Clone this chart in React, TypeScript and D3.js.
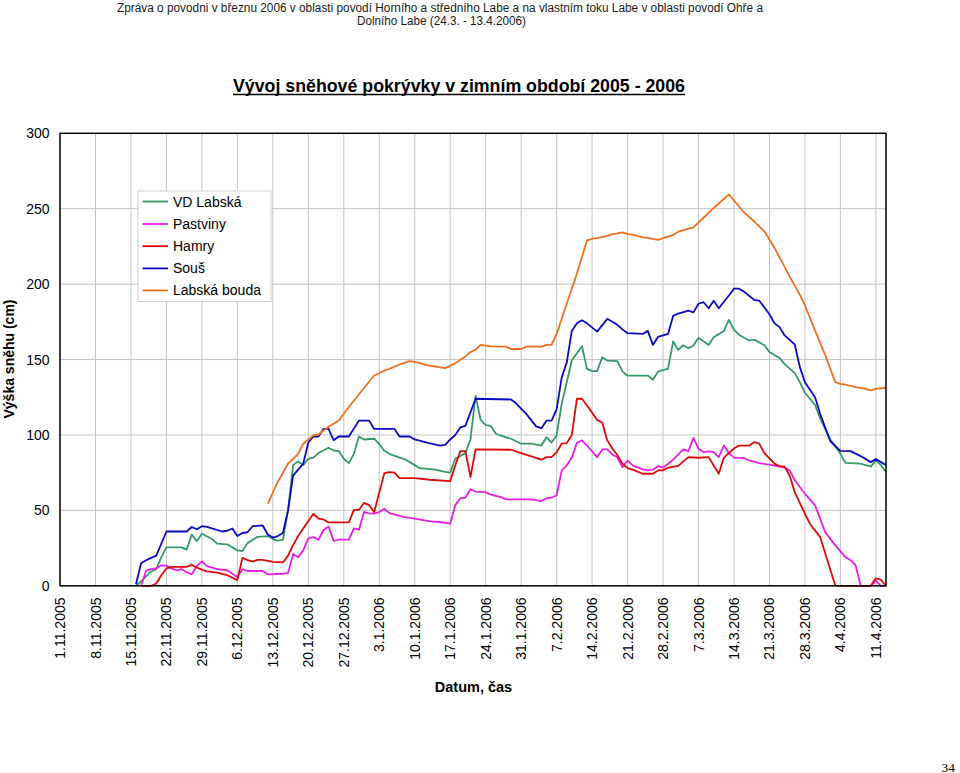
import React from "react";
import * as d3 from "d3";

type Pt = [string, number];

const headerLines = [
  "Zpráva o povodni v březnu 2006 v oblasti povodí Horního a středního Labe a na vlastním toku Labe v oblasti povodí Ohře a",
  "Dolního Labe (24.3. - 13.4.2006)",
];
const chartTitle = "Vývoj sněhové pokrývky v zimním období 2005 - 2006";
const yAxisTitle = "Výška sněhu (cm)";
const xAxisTitle = "Datum, čas";
const pageNumber = "34";

const xTickLabels = [
  "1.11.2005", "8.11.2005", "15.11.2005", "22.11.2005", "29.11.2005", "6.12.2005",
  "13.12.2005", "20.12.2005", "27.12.2005", "3.1.2006", "10.1.2006", "17.1.2006",
  "24.1.2006", "31.1.2006", "7.2.2006", "14.2.2006", "21.2.2006", "28.2.2006",
  "7.3.2006", "14.3.2006", "21.3.2006", "28.3.2006", "4.4.2006", "11.4.2006",
];
const yTicks = [0, 50, 100, 150, 200, 250, 300];
const xDomain = ["1.11.2005", "13.4.2006"];

const vdLabska: Pt[] = [
  ["16.11.2005", 0], ["17.11.2005", 3], ["19.11.2005", 9.5], ["20.11.2005", 11], ["21.11.2005", 19],
  ["22.11.2005", 25.5], ["25.11.2005", 25.5], ["26.11.2005", 24], ["27.11.2005", 34], ["28.11.2005", 29.5],
  ["29.11.2005", 34.5], ["1.12.2005", 31], ["2.12.2005", 28], ["4.12.2005", 27.5], ["6.12.2005", 23.5],
  ["7.12.2005", 23], ["8.12.2005", 28.3], ["10.12.2005", 32.5], ["12.12.2005", 33], ["13.12.2005", 31],
  ["14.12.2005", 30], ["15.12.2005", 30.5], ["16.12.2005", 50], ["17.12.2005", 80], ["18.12.2005", 82.5],
  ["19.12.2005", 80], ["20.12.2005", 84.2], ["21.12.2005", 85], ["22.12.2005", 88], ["24.12.2005", 91.5],
  ["25.12.2005", 89.7], ["26.12.2005", 89.3], ["27.12.2005", 84.2], ["28.12.2005", 81.3], ["29.12.2005", 87.5],
  ["30.12.2005", 99], ["31.12.2005", 97], ["2.1.2006", 97.5], ["3.1.2006", 94], ["4.1.2006", 89.5],
  ["5.1.2006", 87.5], ["7.1.2006", 85], ["8.1.2006", 84], ["10.1.2006", 80], ["11.1.2006", 78],
  ["14.1.2006", 77], ["16.1.2006", 75.5], ["17.1.2006", 75], ["18.1.2006", 84.2], ["19.1.2006", 86],
  ["20.1.2006", 88], ["21.1.2006", 97], ["22.1.2006", 126], ["23.1.2006", 110], ["24.1.2006", 106.5],
  ["25.1.2006", 106], ["26.1.2006", 101], ["27.1.2006", 99.5], ["29.1.2006", 97.5], ["31.1.2006", 94.2],
  ["2.2.2006", 94.2], ["4.2.2006", 93], ["5.2.2006", 98.5], ["6.2.2006", 95], ["7.2.2006", 99.7],
  ["8.2.2006", 120.6], ["9.2.2006", 135], ["10.2.2006", 149.5], ["12.2.2006", 158.8], ["13.2.2006", 143.8],
  ["14.2.2006", 142.3], ["15.2.2006", 142.3], ["16.2.2006", 151.5], ["17.2.2006", 149.3], ["19.2.2006", 148.9],
  ["20.2.2006", 142], ["21.2.2006", 139.4], ["25.2.2006", 139.4], ["26.2.2006", 136.6], ["27.2.2006", 142],
  ["1.3.2006", 144], ["2.3.2006", 162], ["3.3.2006", 156.4], ["4.3.2006", 159.5], ["5.3.2006", 157.5],
  ["6.3.2006", 159.3], ["7.3.2006", 164.4], ["9.3.2006", 159.7], ["10.3.2006", 164.8], ["12.3.2006", 169],
  ["13.3.2006", 176.3], ["14.3.2006", 169.7], ["15.3.2006", 166.5], ["16.3.2006", 164.5], ["17.3.2006", 162.6],
  ["18.3.2006", 163.2], ["20.3.2006", 159.5], ["21.3.2006", 155], ["23.3.2006", 151], ["24.3.2006", 147],
  ["26.3.2006", 141], ["27.3.2006", 135], ["28.3.2006", 128], ["30.3.2006", 120], ["31.3.2006", 111],
  ["2.4.2006", 97], ["4.4.2006", 87.5], ["5.4.2006", 81.5], ["8.4.2006", 81], ["10.4.2006", 79],
  ["11.4.2006", 83], ["12.4.2006", 80], ["13.4.2006", 75.5],
];

const pastviny: Pt[] = [
  ["17.11.2005", 0], ["18.11.2005", 10], ["19.11.2005", 11], ["20.11.2005", 11.5], ["21.11.2005", 13.6],
  ["22.11.2005", 13.4], ["23.11.2005", 11.4], ["24.11.2005", 10.3], ["25.11.2005", 11], ["26.11.2005", 9],
  ["27.11.2005", 7.6], ["28.11.2005", 13], ["29.11.2005", 16.2], ["30.11.2005", 13.1], ["2.12.2005", 11],
  ["4.12.2005", 10.3], ["5.12.2005", 8], ["6.12.2005", 5.8], ["7.12.2005", 11], ["8.12.2005", 9.8],
  ["11.12.2005", 9.8], ["12.12.2005", 7.6], ["15.12.2005", 8], ["16.12.2005", 8.5], ["17.12.2005", 21],
  ["18.12.2005", 19], ["19.12.2005", 23.5], ["20.12.2005", 31.5], ["21.12.2005", 32.3], ["22.12.2005", 30.6],
  ["23.12.2005", 36.8], ["24.12.2005", 39.4], ["25.12.2005", 29.7], ["26.12.2005", 30.6], ["28.12.2005", 30.6],
  ["29.12.2005", 38], ["30.12.2005", 37.2], ["31.12.2005", 49], ["1.1.2006", 48], ["2.1.2006", 47.8],
  ["3.1.2006", 48.9], ["4.1.2006", 51.1], ["5.1.2006", 48.2], ["8.1.2006", 45.6], ["10.1.2006", 44.5],
  ["13.1.2006", 42.7], ["15.1.2006", 42.3], ["17.1.2006", 41.2], ["18.1.2006", 53.5], ["19.1.2006", 58],
  ["20.1.2006", 58.4], ["21.1.2006", 64], ["22.1.2006", 62.5], ["24.1.2006", 62.1], ["25.1.2006", 60.4],
  ["27.1.2006", 58.8], ["28.1.2006", 57.3], ["2.2.2006", 57.3], ["4.2.2006", 56.2], ["5.2.2006", 58.1],
  ["6.2.2006", 58.4], ["7.2.2006", 60], ["8.2.2006", 76.5], ["9.2.2006", 79.8], ["10.2.2006", 85],
  ["11.2.2006", 94.8], ["12.2.2006", 96.4], ["13.2.2006", 93], ["15.2.2006", 85.3], ["16.2.2006", 90.4],
  ["17.2.2006", 90.4], ["18.2.2006", 87], ["19.2.2006", 85], ["20.2.2006", 78.7], ["21.2.2006", 83.1],
  ["22.2.2006", 79.8], ["24.2.2006", 77.2], ["25.2.2006", 76.5], ["26.2.2006", 77], ["27.2.2006", 79.3],
  ["28.2.2006", 78.3], ["2.3.2006", 83.6], ["4.3.2006", 90.4], ["5.3.2006", 89.3], ["6.3.2006", 98.1],
  ["7.3.2006", 91], ["8.3.2006", 88.6], ["9.3.2006", 89.1], ["10.3.2006", 88.6], ["11.3.2006", 85.3],
  ["12.3.2006", 93], ["13.3.2006", 88], ["14.3.2006", 85], ["16.3.2006", 84.6], ["17.3.2006", 83.1],
  ["19.3.2006", 81.3], ["21.3.2006", 80.3], ["24.3.2006", 78.3], ["25.3.2006", 76.5], ["26.3.2006", 70],
  ["28.3.2006", 61], ["30.3.2006", 53.3], ["31.3.2006", 44.5], ["1.4.2006", 35.6], ["3.4.2006", 26.8],
  ["5.4.2006", 19], ["6.4.2006", 17], ["7.4.2006", 13.6], ["8.4.2006", 0], ["10.4.2006", 0],
  ["11.4.2006", 3.5], ["12.4.2006", 0], ["13.4.2006", 0],
];

const hamry: Pt[] = [
  ["17.11.2005", 0], ["19.11.2005", 0], ["20.11.2005", 1.5], ["21.11.2005", 7], ["22.11.2005", 11.5],
  ["23.11.2005", 12.5], ["26.11.2005", 12.5], ["27.11.2005", 14], ["28.11.2005", 12], ["29.11.2005", 10.7],
  ["30.11.2005", 9.5], ["2.12.2005", 8.7], ["4.12.2005", 7], ["6.12.2005", 3.8], ["7.12.2005", 18.5],
  ["8.12.2005", 17], ["9.12.2005", 16.2], ["10.12.2005", 17.2], ["11.12.2005", 17.2], ["13.12.2005", 15.8],
  ["15.12.2005", 15.5], ["16.12.2005", 20], ["17.12.2005", 27], ["18.12.2005", 33], ["19.12.2005", 38],
  ["21.12.2005", 47.8], ["22.12.2005", 44.5], ["23.12.2005", 44], ["24.12.2005", 42], ["28.12.2005", 42],
  ["29.12.2005", 50.3], ["30.12.2005", 50.3], ["31.12.2005", 55], ["1.1.2006", 53.5], ["2.1.2006", 48.9],
  ["4.1.2006", 74.7], ["5.1.2006", 75.4], ["6.1.2006", 75], ["7.1.2006", 71.4], ["10.1.2006", 71.4],
  ["13.1.2006", 70.3], ["17.1.2006", 69.4], ["18.1.2006", 79.8], ["19.1.2006", 89.3], ["20.1.2006", 89.3],
  ["21.1.2006", 72], ["22.1.2006", 90.5], ["29.1.2006", 90.2], ["31.1.2006", 88], ["2.2.2006", 85.8],
  ["4.2.2006", 83.6], ["5.2.2006", 85.3], ["6.2.2006", 85.3], ["7.2.2006", 88.6], ["8.2.2006", 94.2],
  ["9.2.2006", 94.6], ["10.2.2006", 100], ["11.2.2006", 124], ["12.2.2006", 124], ["13.2.2006", 119.5],
  ["15.2.2006", 110], ["16.2.2006", 108.3], ["17.2.2006", 96.4], ["18.2.2006", 91], ["19.2.2006", 86.5],
  ["20.2.2006", 81], ["21.2.2006", 78], ["22.2.2006", 77], ["24.2.2006", 74.3], ["26.2.2006", 74.3],
  ["27.2.2006", 76.5], ["28.2.2006", 76.5], ["1.3.2006", 78.3], ["3.3.2006", 79.5], ["4.3.2006", 82.5],
  ["5.3.2006", 85.3], ["7.3.2006", 84.9], ["9.3.2006", 85.3], ["11.3.2006", 74.3], ["12.3.2006", 85],
  ["14.3.2006", 91], ["15.3.2006", 93], ["17.3.2006", 93], ["18.3.2006", 95.2], ["19.3.2006", 94.2],
  ["20.3.2006", 88], ["22.3.2006", 81], ["23.3.2006", 79.3], ["24.3.2006", 79], ["25.3.2006", 73],
  ["26.3.2006", 62], ["28.3.2006", 47.8], ["29.3.2006", 41], ["31.3.2006", 32.3], ["3.4.2006", 0],
  ["10.4.2006", 0], ["11.4.2006", 5], ["12.4.2006", 4], ["13.4.2006", 0],
];

const sous: Pt[] = [
  ["16.11.2005", 1], ["17.11.2005", 15], ["18.11.2005", 17], ["20.11.2005", 20], ["22.11.2005", 36],
  ["26.11.2005", 36], ["27.11.2005", 39], ["28.11.2005", 37.5], ["29.11.2005", 39.5], ["30.11.2005", 39],
  ["3.12.2005", 36], ["4.12.2005", 36.5], ["5.12.2005", 38], ["6.12.2005", 33], ["7.12.2005", 35],
  ["8.12.2005", 35.5], ["9.12.2005", 39.5], ["11.12.2005", 40], ["12.12.2005", 34], ["13.12.2005", 32],
  ["14.12.2005", 33], ["15.12.2005", 35], ["16.12.2005", 50], ["17.12.2005", 73], ["19.12.2005", 81],
  ["20.12.2005", 95], ["21.12.2005", 99], ["22.12.2005", 99], ["23.12.2005", 104], ["24.12.2005", 104],
  ["25.12.2005", 96.5], ["26.12.2005", 99], ["28.12.2005", 99], ["30.12.2005", 109.5], ["1.1.2006", 109.5],
  ["2.1.2006", 104], ["6.1.2006", 104], ["7.1.2006", 99], ["9.1.2006", 99], ["10.1.2006", 97],
  ["13.1.2006", 94.5], ["15.1.2006", 93], ["16.1.2006", 93.5], ["17.1.2006", 97], ["18.1.2006", 100],
  ["19.1.2006", 105], ["20.1.2006", 106], ["22.1.2006", 124], ["29.1.2006", 123.5], ["30.1.2006", 121],
  ["1.2.2006", 114], ["3.2.2006", 105.5], ["4.2.2006", 104.5], ["5.2.2006", 109.5], ["6.2.2006", 109.5],
  ["7.2.2006", 117], ["8.2.2006", 138], ["9.2.2006", 148], ["10.2.2006", 169], ["11.2.2006", 174],
  ["12.2.2006", 176], ["13.2.2006", 174], ["15.2.2006", 168.5], ["17.2.2006", 177], ["18.2.2006", 175],
  ["19.2.2006", 173], ["20.2.2006", 170], ["21.2.2006", 167.5], ["24.2.2006", 167], ["25.2.2006", 169],
  ["26.2.2006", 159.7], ["27.2.2006", 165], ["1.3.2006", 167], ["2.3.2006", 179], ["3.3.2006", 180.5],
  ["5.3.2006", 182.5], ["6.3.2006", 181.3], ["7.3.2006", 187], ["8.3.2006", 188], ["9.3.2006", 184],
  ["10.3.2006", 189], ["11.3.2006", 184], ["13.3.2006", 192.5], ["14.3.2006", 197], ["15.3.2006", 197],
  ["16.3.2006", 195], ["18.3.2006", 189.5], ["19.3.2006", 189], ["21.3.2006", 180], ["22.3.2006", 174],
  ["23.3.2006", 171.5], ["24.3.2006", 166], ["26.3.2006", 160], ["27.3.2006", 145], ["28.3.2006", 135],
  ["30.3.2006", 125], ["31.3.2006", 114], ["2.4.2006", 96], ["4.4.2006", 89.5], ["6.4.2006", 89.3],
  ["8.4.2006", 86], ["10.4.2006", 82], ["11.4.2006", 84], ["12.4.2006", 82], ["13.4.2006", 80],
];

const labskaBouda: Pt[] = [
  ["12.12.2005", 54.5], ["14.12.2005", 69], ["16.12.2005", 81], ["18.12.2005", 87.5], ["19.12.2005", 94.2],
  ["20.12.2005", 97], ["21.12.2005", 99.7], ["22.12.2005", 100.3], ["23.12.2005", 103], ["24.12.2005", 105.5],
  ["26.12.2005", 109.5], ["27.12.2005", 114], ["28.12.2005", 118.5], ["30.12.2005", 127], ["2.1.2006", 139.4],
  ["3.1.2006", 140.9], ["4.1.2006", 142.7], ["5.1.2006", 143.8], ["7.1.2006", 146.7], ["9.1.2006", 149],
  ["11.1.2006", 147.8], ["12.1.2006", 146.5], ["14.1.2006", 145.4], ["16.1.2006", 144.3], ["18.1.2006", 147.5],
  ["19.1.2006", 149.8], ["20.1.2006", 152], ["21.1.2006", 155], ["22.1.2006", 156.5], ["23.1.2006", 159.7],
  ["25.1.2006", 158.8], ["28.1.2006", 158.6], ["29.1.2006", 157], ["31.1.2006", 157], ["1.2.2006", 158.6],
  ["4.2.2006", 158.6], ["5.2.2006", 159.7], ["6.2.2006", 159.7], ["7.2.2006", 167], ["9.2.2006", 187],
  ["11.2.2006", 207], ["13.2.2006", 229], ["14.2.2006", 230], ["15.2.2006", 230.5], ["17.2.2006", 232],
  ["18.2.2006", 233.2], ["19.2.2006", 233.6], ["20.2.2006", 234.3], ["21.2.2006", 233.2], ["22.2.2006", 232.8],
  ["24.2.2006", 231], ["25.2.2006", 230.6], ["27.2.2006", 229.3], ["2.3.2006", 232.6], ["3.3.2006", 234.8],
  ["6.3.2006", 237.6], ["8.3.2006", 244], ["10.3.2006", 250.5], ["13.3.2006", 259.5], ["16.3.2006", 247.5],
  ["18.3.2006", 241.5], ["20.3.2006", 235], ["22.3.2006", 224], ["25.3.2006", 205], ["27.3.2006", 193],
  ["28.3.2006", 186], ["30.3.2006", 169.2], ["1.4.2006", 153], ["3.4.2006", 135], ["4.4.2006", 133.9],
  ["5.4.2006", 133.4], ["7.4.2006", 131.7], ["9.4.2006", 130.5], ["10.4.2006", 129.5], ["11.4.2006", 130.6],
  ["13.4.2006", 131.3],
];

const seriesNames = ["VD Labská", "Pastviny", "Hamry", "Souš", "Labská bouda"];
const seriesData = [vdLabska, pastviny, hamry, sous, labskaBouda];
const seriesColors = ["#339966", "#e61ee6", "#dd0a0a", "#0a0ac0", "#f07020"];

const parse = d3.utcParse("%d.%m.%Y");
const FONT = "'Liberation Sans', Arial, Helvetica, sans-serif";

export default function App() {
  const W = 960, H = 773;
  const left = 60, right = 886, top = 133.3, bottom = 585.8;
  const x = d3.scaleUtc().domain(xDomain.map((s) => parse(s) as Date)).range([left, right]);
  const y = d3.scaleLinear().domain([0, 300]).range([bottom, top]);
  const line = d3
    .line<Pt>()
    .x((d) => x(parse(d[0]) as Date))
    .y((d) => y(d[1]));

  const legX = 138, legY = 191;
  const legRowY = [201.5, 224, 246.2, 268.4, 290.4];

  return (
    <svg
      width={W}
      height={H}
      viewBox={`0 0 ${W} ${H}`}
      style={{ position: "absolute", left: 0, top: 0, background: "#fff" }}
      fontFamily={FONT}
    >
      <rect x={0} y={0} width={W} height={H} fill="#fff" />
      {/* header */}
      <text x={440} y={11.5} textAnchor="middle" fontSize={12.5} textLength={646} lengthAdjust="spacingAndGlyphs" fill="#1a1a1a">
        {headerLines[0]}
      </text>
      <text x={441.5} y={25} textAnchor="middle" fontSize={12.5} textLength={169} lengthAdjust="spacingAndGlyphs" fill="#1a1a1a">
        {headerLines[1]}
      </text>
      {/* title */}
      <text x={459} y={91.5} textAnchor="middle" fontSize={19} fontWeight="bold" textLength={452} lengthAdjust="spacingAndGlyphs" fill="#000">
        {chartTitle}
      </text>
      <line x1={233} x2={685} y1={94.5} y2={94.5} stroke="#000" strokeWidth={1.5} />

      {/* gridlines */}
      {yTicks.filter((t) => t > 0 && t < 300).map((t) => (
        <line key={"gy" + t} x1={left} x2={right} y1={y(t)} y2={y(t)} stroke="#c4c4c4" strokeWidth={1} />
      ))}
      {xTickLabels.slice(1).map((s) => (
        <line key={"gx" + s} x1={x(parse(s) as Date)} x2={x(parse(s) as Date)} y1={top} y2={bottom} stroke="#c4c4c4" strokeWidth={1} />
      ))}

      {/* series */}
      {seriesData.map((data, i) => (
        <path key={seriesNames[i]} d={line(data) || ""} fill="none" stroke={seriesColors[i]} strokeWidth={1.8} strokeLinejoin="round" />
      ))}

      {/* plot border */}
      <rect x={left} y={top} width={right - left} height={bottom - top} fill="none" stroke="#000" strokeWidth={1.5} />

      {/* y ticks */}
      {yTicks.map((t) => (
        <text key={"yt" + t} x={49.5} y={y(t)} dy="0.36em" textAnchor="end" fontSize={14} fill="#000">
          {t}
        </text>
      ))}
      <text transform={`translate(14,359) rotate(-90)`} textAnchor="middle" fontSize={14} fontWeight="bold" fill="#000">
        {yAxisTitle}
      </text>

      {/* x ticks */}
      {xTickLabels.map((s) => (
        <text
          key={"xt" + s}
          transform={`translate(${x(parse(s) as Date)},597.5) rotate(-90)`}
          dy="0.36em"
          textAnchor="end"
          fontSize={14}
          fill="#000"
        >
          {s}
        </text>
      ))}
      <text x={473.5} y={692} textAnchor="middle" fontSize={14.5} fontWeight="bold" fill="#000">
        {xAxisTitle}
      </text>

      {/* legend */}
      <rect x={legX} y={legY} width={133} height={110.5} fill="#fff" stroke="#cfcfcf" strokeWidth={1} />
      {seriesNames.map((n, i) => (
        <g key={"lg" + n}>
          <line x1={142.5} x2={168} y1={legRowY[i]} y2={legRowY[i]} stroke={seriesColors[i]} strokeWidth={1.8} />
          <text x={173} y={legRowY[i]} dy="0.36em" fontSize={14} fill="#000">
            {n}
          </text>
        </g>
      ))}

      {/* page number */}
      <text x={955} y={771.5} textAnchor="end" fontSize={13.5} fontFamily="'Liberation Serif', 'Times New Roman', serif" fill="#000">
        {pageNumber}
      </text>
    </svg>
  );
}
